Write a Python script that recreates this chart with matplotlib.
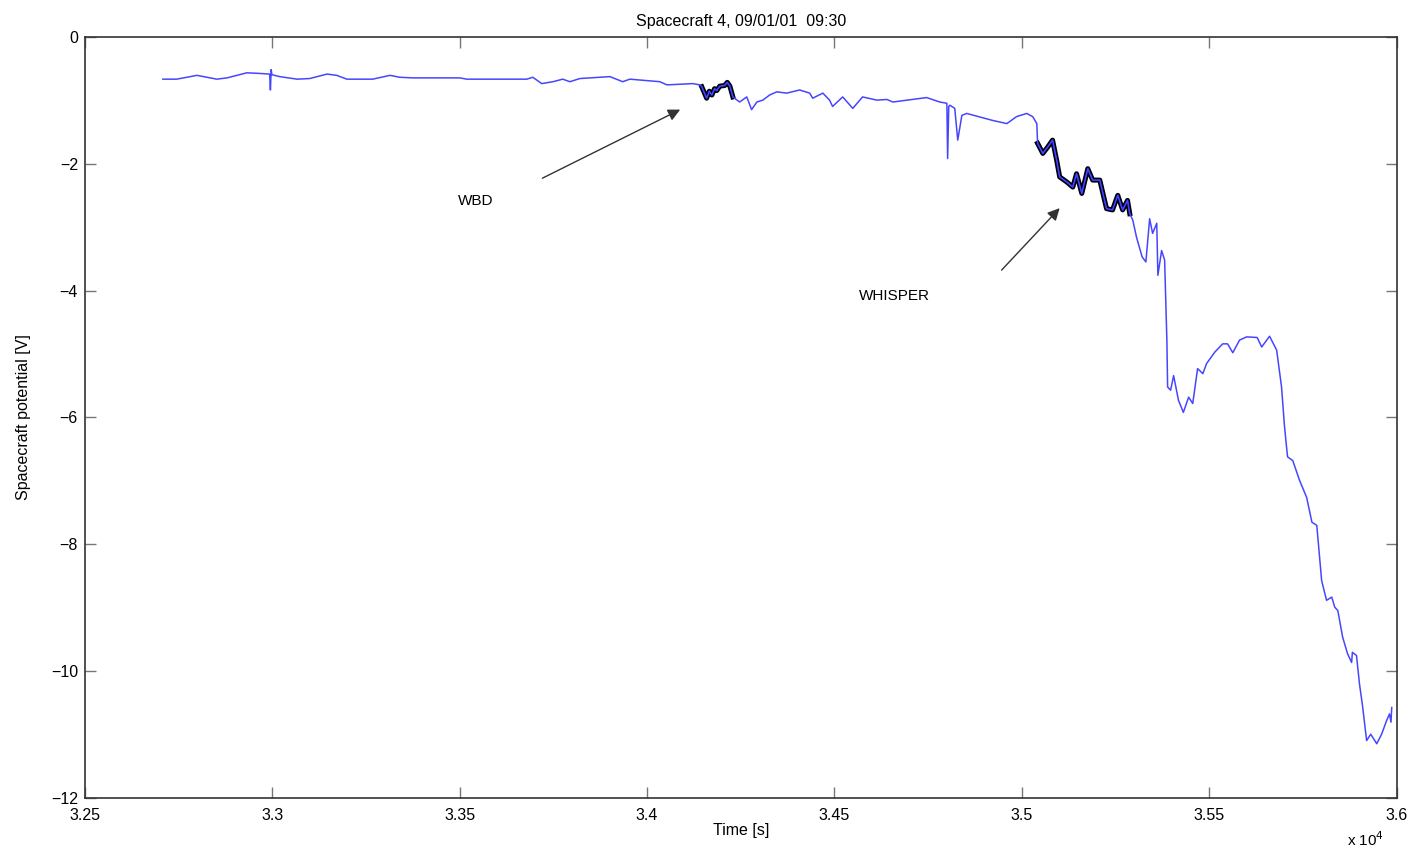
import matplotlib.pyplot as plt
import numpy as np
from matplotlib.ticker import FuncFormatter, MultipleLocator

plt.rcParams['font.family'] = ['Liberation Sans', 'DejaVu Sans']

# spacecraft potential trace, time [s] and potential [V]
time_s = [32708, 32745, 32799, 32852, 32879, 32932, 32967, 32993, 32995, 32997, 32999,
          33020, 33066, 33100, 33146, 33172, 33199, 33268, 33314, 33340, 33375, 33500,
          33519, 33679, 33695, 33719, 33749, 33775, 33794, 33821, 33901, 33935, 33954,
          34034, 34053, 34122, 34141, 34146, 34159, 34166, 34173, 34180, 34186, 34194,
          34207, 34214, 34221, 34229, 34247, 34266, 34279, 34293, 34309, 34327, 34346,
          34373, 34407, 34434, 34442, 34469, 34487, 34495, 34522, 34549, 34575, 34613,
          34640, 34656, 34746, 34781, 34800, 34802, 34805, 34808, 34821, 34829, 34840,
          34853, 34922, 34960, 34986, 35013, 35029, 35040, 35042, 35056, 35069, 35082,
          35093, 35101, 35120, 35136, 35146, 35160, 35176, 35189, 35208, 35226, 35242,
          35256, 35269, 35282, 35288, 35296, 35306, 35321, 35331, 35341, 35349, 35360,
          35363, 35373, 35381, 35387, 35389, 35397, 35405, 35418, 35431, 35445, 35456,
          35469, 35483, 35493, 35515, 35536, 35549, 35563, 35581, 35600, 35628, 35640,
          35661, 35680, 35693, 35701, 35709, 35723, 35741, 35760, 35774, 35787, 35800,
          35813, 35827, 35835, 35843, 35856, 35869, 35880, 35882, 35893, 35901, 35909,
          35920, 35931, 35947, 35960, 35973, 35981, 35985, 35987]
potential = [-0.67, -0.67, -0.61, -0.67, -0.65, -0.57, -0.58, -0.59, -0.84, -0.52, -0.60,
             -0.63, -0.67, -0.66, -0.59, -0.61, -0.67, -0.67, -0.61, -0.64, -0.65, -0.65,
             -0.67, -0.67, -0.64, -0.74, -0.71, -0.67, -0.71, -0.66, -0.63, -0.71, -0.67,
             -0.71, -0.76, -0.74, -0.76, -0.79, -0.97, -0.86, -0.92, -0.82, -0.85, -0.78,
             -0.77, -0.72, -0.78, -0.95, -1.03, -0.95, -1.15, -1.03, -1.00, -0.92, -0.87,
             -0.89, -0.84, -0.89, -0.97, -0.89, -1.00, -1.10, -0.95, -1.13, -0.95, -1.00,
             -0.99, -1.03, -0.96, -1.03, -1.05, -1.92, -1.10, -1.08, -1.13, -1.63, -1.24,
             -1.21, -1.32, -1.37, -1.26, -1.21, -1.26, -1.37, -1.68, -1.84, -1.74, -1.63,
             -1.95, -2.21, -2.29, -2.37, -2.16, -2.47, -2.08, -2.26, -2.26, -2.71, -2.73,
             -2.50, -2.73, -2.58, -2.79, -2.89, -3.16, -3.47, -3.55, -2.87, -3.10, -2.94,
             -3.76, -3.37, -3.52, -4.78, -5.52, -5.57, -5.34, -5.73, -5.92, -5.68, -5.78,
             -5.23, -5.31, -5.15, -4.97, -4.84, -4.84, -4.98, -4.78, -4.73, -4.74, -4.89,
             -4.72, -4.94, -5.52, -6.15, -6.62, -6.68, -6.99, -7.26, -7.65, -7.70, -8.57,
             -8.88, -8.83, -8.99, -9.04, -9.46, -9.72, -9.86, -9.70, -9.75, -10.20, -10.54,
             -11.09, -10.99, -11.14, -10.99, -10.78, -10.67, -10.80, -10.57]

# intervals highlighted as instrument data
wbd_span = (34146, 34229)
whisper_span = (35042, 35288)

fig = plt.figure(figsize=(14.15, 8.52), dpi=100)
ax = fig.add_axes([0.060, 0.063, 0.927, 0.894])

t = np.array(time_s)
v = np.array(potential)
for lo, hi in (wbd_span, whisper_span):
    m = (t >= lo) & (t <= hi)
    ax.plot(t[m], v[m], color='black', lw=3.6, solid_joinstyle='round')
    ax.plot(t[m], v[m], color='#00007a', lw=1.4)
ax.plot(t, v, color='#4646ff', lw=1.1)

ax.annotate('', xy=(34095, -1.13), xytext=(33714, -2.25),
            arrowprops=dict(arrowstyle='-|>', color='#333333', lw=1.0, mutation_scale=18))
ax.text(33543, -2.59, 'WBD', fontsize=11, ha='center', va='center')
ax.annotate('', xy=(35106, -2.67), xytext=(34941, -3.71),
            arrowprops=dict(arrowstyle='-|>', color='#333333', lw=1.0, mutation_scale=18))
ax.text(34661, -4.09, 'WHISPER', fontsize=11, ha='center', va='center')

ax.set_xlim(32500, 36000)
ax.set_ylim(-12, 0)
ax.xaxis.set_major_locator(MultipleLocator(500))
ax.yaxis.set_major_locator(MultipleLocator(2))
ax.xaxis.set_major_formatter(FuncFormatter(lambda x, p: f'{x / 1e4:g}'))
ax.yaxis.set_major_formatter(FuncFormatter(lambda y, p: f'\u2212{-y:g}' if y < 0 else f'{y:g}'))
ax.tick_params(direction='in', length=8, width=1, color='#777777', labelsize=11.5,
               top=True, right=True)
ax.tick_params(axis='x', pad=7)
ax.tick_params(axis='y', pad=5)
for s in ax.spines.values():
    s.set_color('#333333')
    s.set_linewidth(1.2)

ax.set_title('Spacecraft 4, 09/01/01  09:30', fontsize=11.5, pad=8)
ax.set_xlabel('Time [s]', fontsize=11.5, labelpad=0)
ax.set_ylabel('Spacecraft potential [V]', fontsize=11.5, labelpad=14)
fig.text(0.965, 0.004, r'x 10$^4$', fontsize=11, ha='center', va='bottom')

fig.savefig('out.png', dpi=100)
